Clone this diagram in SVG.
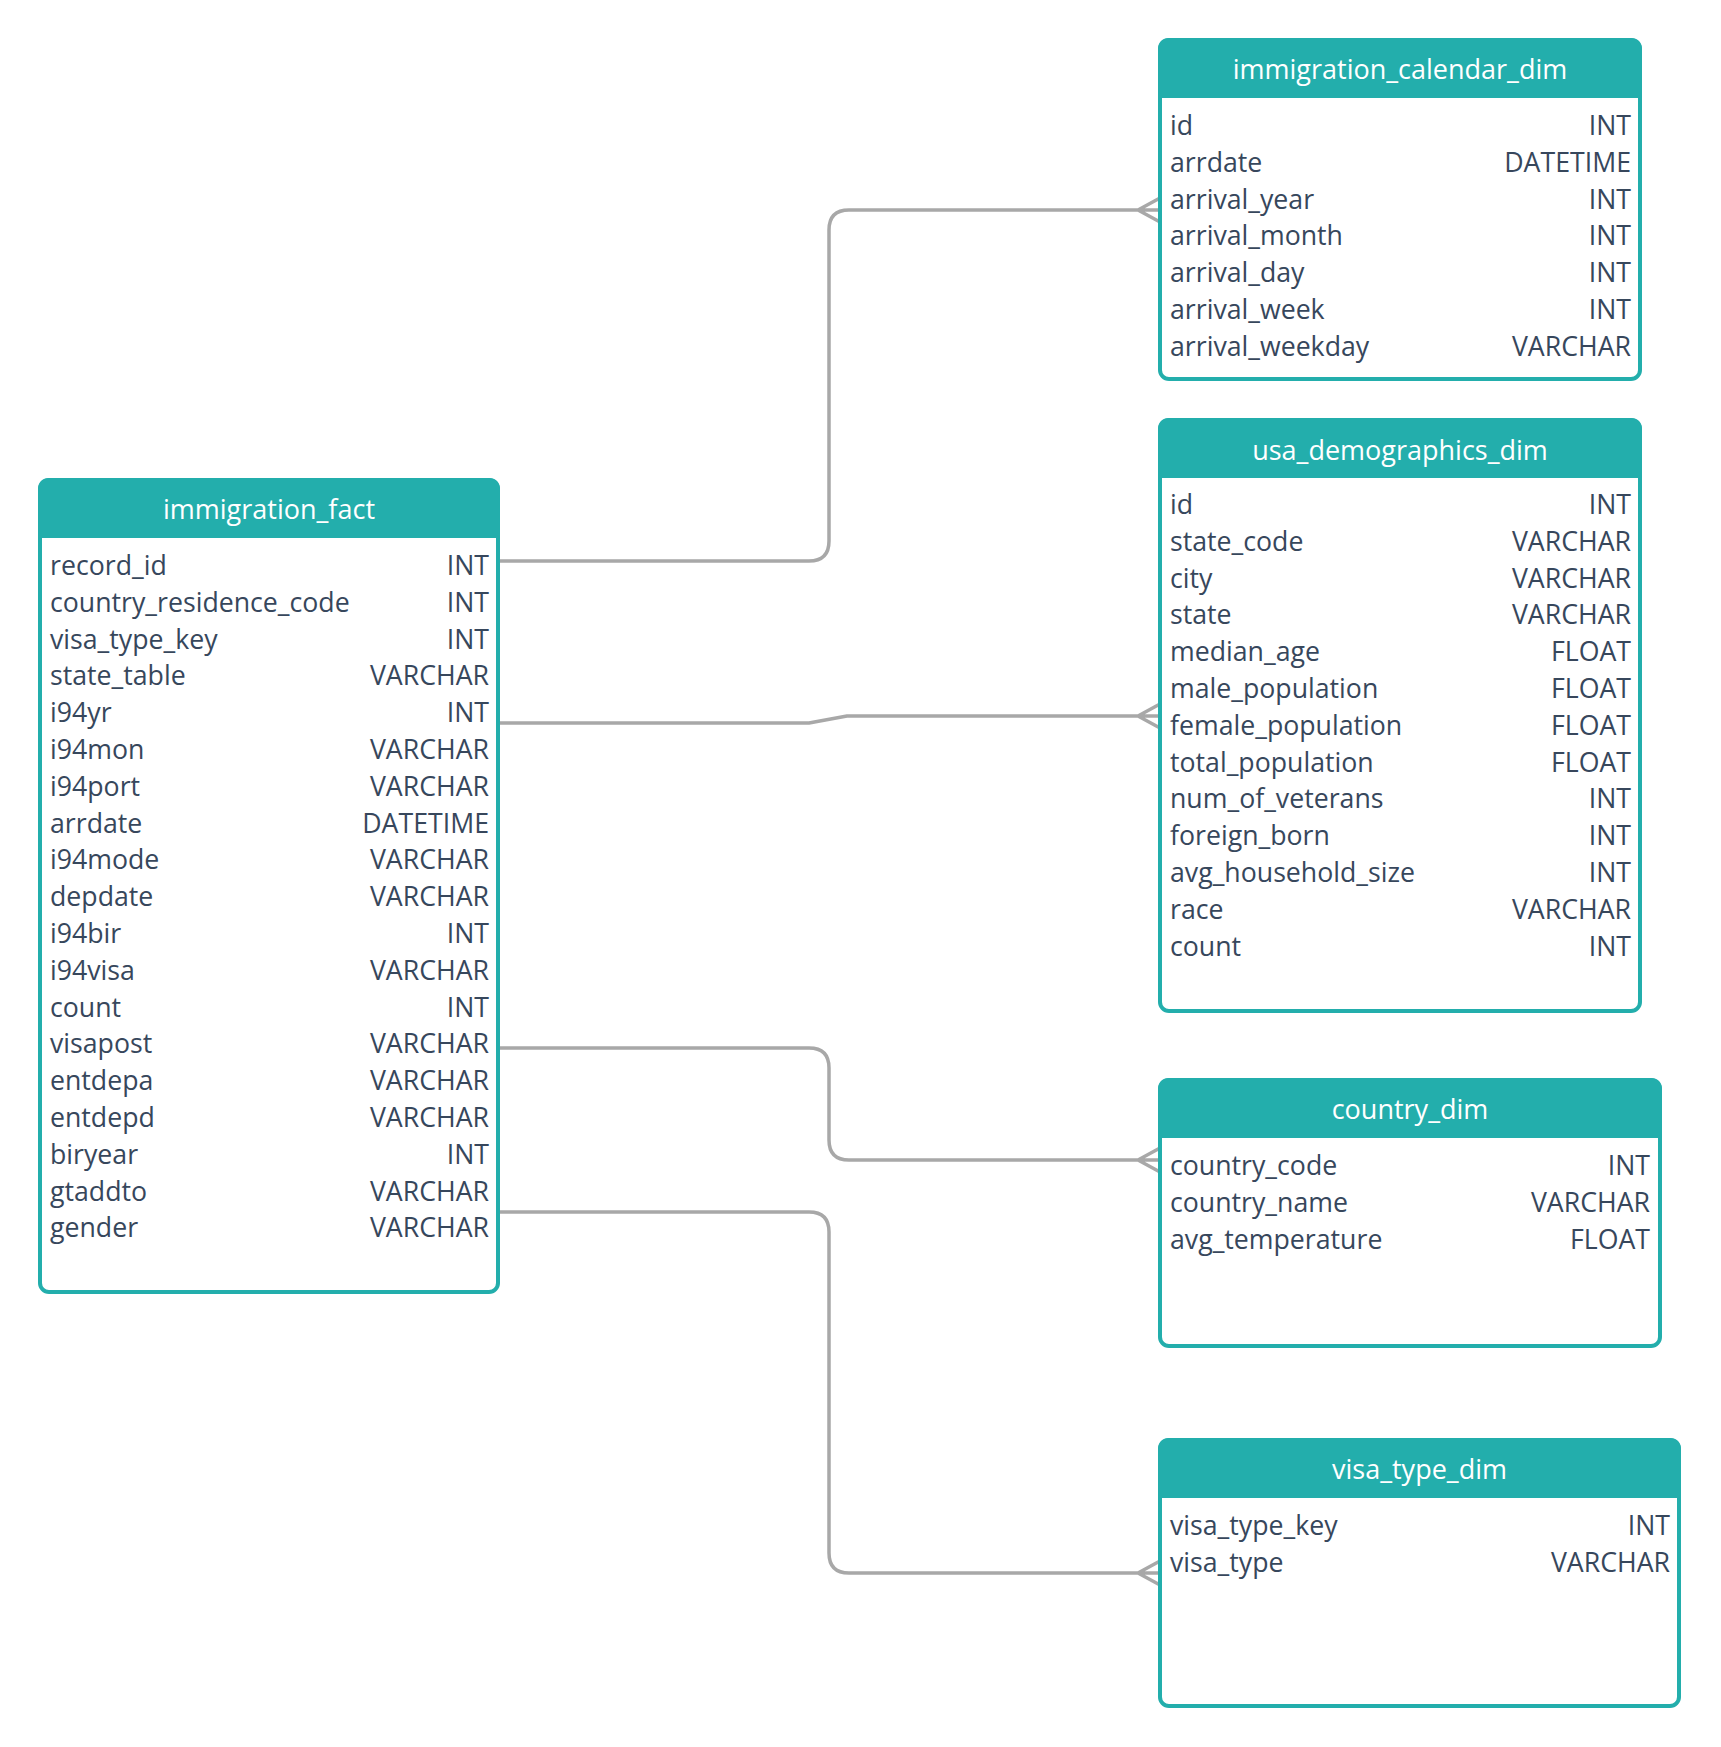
<svg xmlns="http://www.w3.org/2000/svg" width="1721" height="1747" viewBox="0 0 1721 1747">
<style>
.box{fill:#ffffff;stroke:#23AEAC;stroke-width:4}
.hdr{fill:#23AEAC}
.title{font-family:"Open Sans","Noto Sans","DejaVu Sans",sans-serif;font-size:27px;fill:#ffffff;text-anchor:middle}
.f{font-family:"Open Sans","Noto Sans","DejaVu Sans",sans-serif;font-size:26.7px;fill:#37475C}
.t{text-anchor:end}
.conn{fill:none;stroke:#A8A8A8;stroke-width:3.5;stroke-linejoin:round}
</style>
<rect width="1721" height="1747" fill="#ffffff"/>
<g id="connectors">
<path class="conn" d="M500,561 H809 Q829,561 829,541 V230 Q829,210 849,210 H1160 M1138,210 L1160,198 M1138,210 L1160,222"/>
<path class="conn" d="M500,723 H809 L847,716 H1160 M1138,716 L1160,704 M1138,716 L1160,728"/>
<path class="conn" d="M500,1048 H809 Q829,1048 829,1068 V1140 Q829,1160 849,1160 H1160 M1138,1160 L1160,1148 M1138,1160 L1160,1172"/>
<path class="conn" d="M500,1212 H809 Q829,1212 829,1232 V1553 Q829,1573 849,1573 H1160 M1138,1573 L1160,1561 M1138,1573 L1160,1585"/>
</g>
<g id="immigration_fact">
<rect class="box" x="40" y="480" width="458" height="812" rx="9"/>
<path class="hdr" d="M38,538 V490 Q38,478 50,478 H488 Q500,478 500,490 V538 Z"/>
<text class="title" x="269" y="519">immigration_fact</text>
<text class="f" x="50" y="575">record_id</text><text class="f t" x="489" y="575">INT</text>
<text class="f" x="50" y="611.8">country_residence_code</text><text class="f t" x="489" y="611.8">INT</text>
<text class="f" x="50" y="648.6">visa_type_key</text><text class="f t" x="489" y="648.6">INT</text>
<text class="f" x="50" y="685.4">state_table</text><text class="f t" x="489" y="685.4">VARCHAR</text>
<text class="f" x="50" y="722.2">i94yr</text><text class="f t" x="489" y="722.2">INT</text>
<text class="f" x="50" y="759">i94mon</text><text class="f t" x="489" y="759">VARCHAR</text>
<text class="f" x="50" y="795.8">i94port</text><text class="f t" x="489" y="795.8">VARCHAR</text>
<text class="f" x="50" y="832.6">arrdate</text><text class="f t" x="489" y="832.6">DATETIME</text>
<text class="f" x="50" y="869.4">i94mode</text><text class="f t" x="489" y="869.4">VARCHAR</text>
<text class="f" x="50" y="906.2">depdate</text><text class="f t" x="489" y="906.2">VARCHAR</text>
<text class="f" x="50" y="943">i94bir</text><text class="f t" x="489" y="943">INT</text>
<text class="f" x="50" y="979.8">i94visa</text><text class="f t" x="489" y="979.8">VARCHAR</text>
<text class="f" x="50" y="1016.6">count</text><text class="f t" x="489" y="1016.6">INT</text>
<text class="f" x="50" y="1053.4">visapost</text><text class="f t" x="489" y="1053.4">VARCHAR</text>
<text class="f" x="50" y="1090.2">entdepa</text><text class="f t" x="489" y="1090.2">VARCHAR</text>
<text class="f" x="50" y="1127">entdepd</text><text class="f t" x="489" y="1127">VARCHAR</text>
<text class="f" x="50" y="1163.8">biryear</text><text class="f t" x="489" y="1163.8">INT</text>
<text class="f" x="50" y="1200.6">gtaddto</text><text class="f t" x="489" y="1200.6">VARCHAR</text>
<text class="f" x="50" y="1237.4">gender</text><text class="f t" x="489" y="1237.4">VARCHAR</text>
</g>
<g id="immigration_calendar_dim">
<rect class="box" x="1160" y="40" width="480" height="339" rx="9"/>
<path class="hdr" d="M1158,98 V50 Q1158,38 1170,38 H1630 Q1642,38 1642,50 V98 Z"/>
<text class="title" x="1400" y="79">immigration_calendar_dim</text>
<text class="f" x="1170" y="135">id</text><text class="f t" x="1631" y="135">INT</text>
<text class="f" x="1170" y="171.8">arrdate</text><text class="f t" x="1631" y="171.8">DATETIME</text>
<text class="f" x="1170" y="208.6">arrival_year</text><text class="f t" x="1631" y="208.6">INT</text>
<text class="f" x="1170" y="245.4">arrival_month</text><text class="f t" x="1631" y="245.4">INT</text>
<text class="f" x="1170" y="282.2">arrival_day</text><text class="f t" x="1631" y="282.2">INT</text>
<text class="f" x="1170" y="319">arrival_week</text><text class="f t" x="1631" y="319">INT</text>
<text class="f" x="1170" y="355.8">arrival_weekday</text><text class="f t" x="1631" y="355.8">VARCHAR</text>
</g>
<g id="usa_demographics_dim">
<rect class="box" x="1160" y="420" width="480" height="591" rx="9"/>
<path class="hdr" d="M1158,478 V430 Q1158,418 1170,418 H1630 Q1642,418 1642,430 V478 Z"/>
<text class="title" x="1400" y="460">usa_demographics_dim</text>
<text class="f" x="1170" y="514">id</text><text class="f t" x="1631" y="514">INT</text>
<text class="f" x="1170" y="550.8">state_code</text><text class="f t" x="1631" y="550.8">VARCHAR</text>
<text class="f" x="1170" y="587.6">city</text><text class="f t" x="1631" y="587.6">VARCHAR</text>
<text class="f" x="1170" y="624.4">state</text><text class="f t" x="1631" y="624.4">VARCHAR</text>
<text class="f" x="1170" y="661.2">median_age</text><text class="f t" x="1631" y="661.2">FLOAT</text>
<text class="f" x="1170" y="698">male_population</text><text class="f t" x="1631" y="698">FLOAT</text>
<text class="f" x="1170" y="734.8">female_population</text><text class="f t" x="1631" y="734.8">FLOAT</text>
<text class="f" x="1170" y="771.6">total_population</text><text class="f t" x="1631" y="771.6">FLOAT</text>
<text class="f" x="1170" y="808.4">num_of_veterans</text><text class="f t" x="1631" y="808.4">INT</text>
<text class="f" x="1170" y="845.2">foreign_born</text><text class="f t" x="1631" y="845.2">INT</text>
<text class="f" x="1170" y="882">avg_household_size</text><text class="f t" x="1631" y="882">INT</text>
<text class="f" x="1170" y="918.8">race</text><text class="f t" x="1631" y="918.8">VARCHAR</text>
<text class="f" x="1170" y="955.6">count</text><text class="f t" x="1631" y="955.6">INT</text>
</g>
<g id="country_dim">
<rect class="box" x="1160" y="1080" width="500" height="266" rx="9"/>
<path class="hdr" d="M1158,1138 V1090 Q1158,1078 1170,1078 H1650 Q1662,1078 1662,1090 V1138 Z"/>
<text class="title" x="1410" y="1119">country_dim</text>
<text class="f" x="1170" y="1175">country_code</text><text class="f t" x="1650" y="1175">INT</text>
<text class="f" x="1170" y="1211.8">country_name</text><text class="f t" x="1650" y="1211.8">VARCHAR</text>
<text class="f" x="1170" y="1248.6">avg_temperature</text><text class="f t" x="1650" y="1248.6">FLOAT</text>
</g>
<g id="visa_type_dim">
<rect class="box" x="1160" y="1440" width="519" height="266" rx="9"/>
<path class="hdr" d="M1158,1498 V1450 Q1158,1438 1170,1438 H1669 Q1681,1438 1681,1450 V1498 Z"/>
<text class="title" x="1419.5" y="1479">visa_type_dim</text>
<text class="f" x="1170" y="1535">visa_type_key</text><text class="f t" x="1670" y="1535">INT</text>
<text class="f" x="1170" y="1571.8">visa_type</text><text class="f t" x="1670" y="1571.8">VARCHAR</text>
</g>
</svg>
